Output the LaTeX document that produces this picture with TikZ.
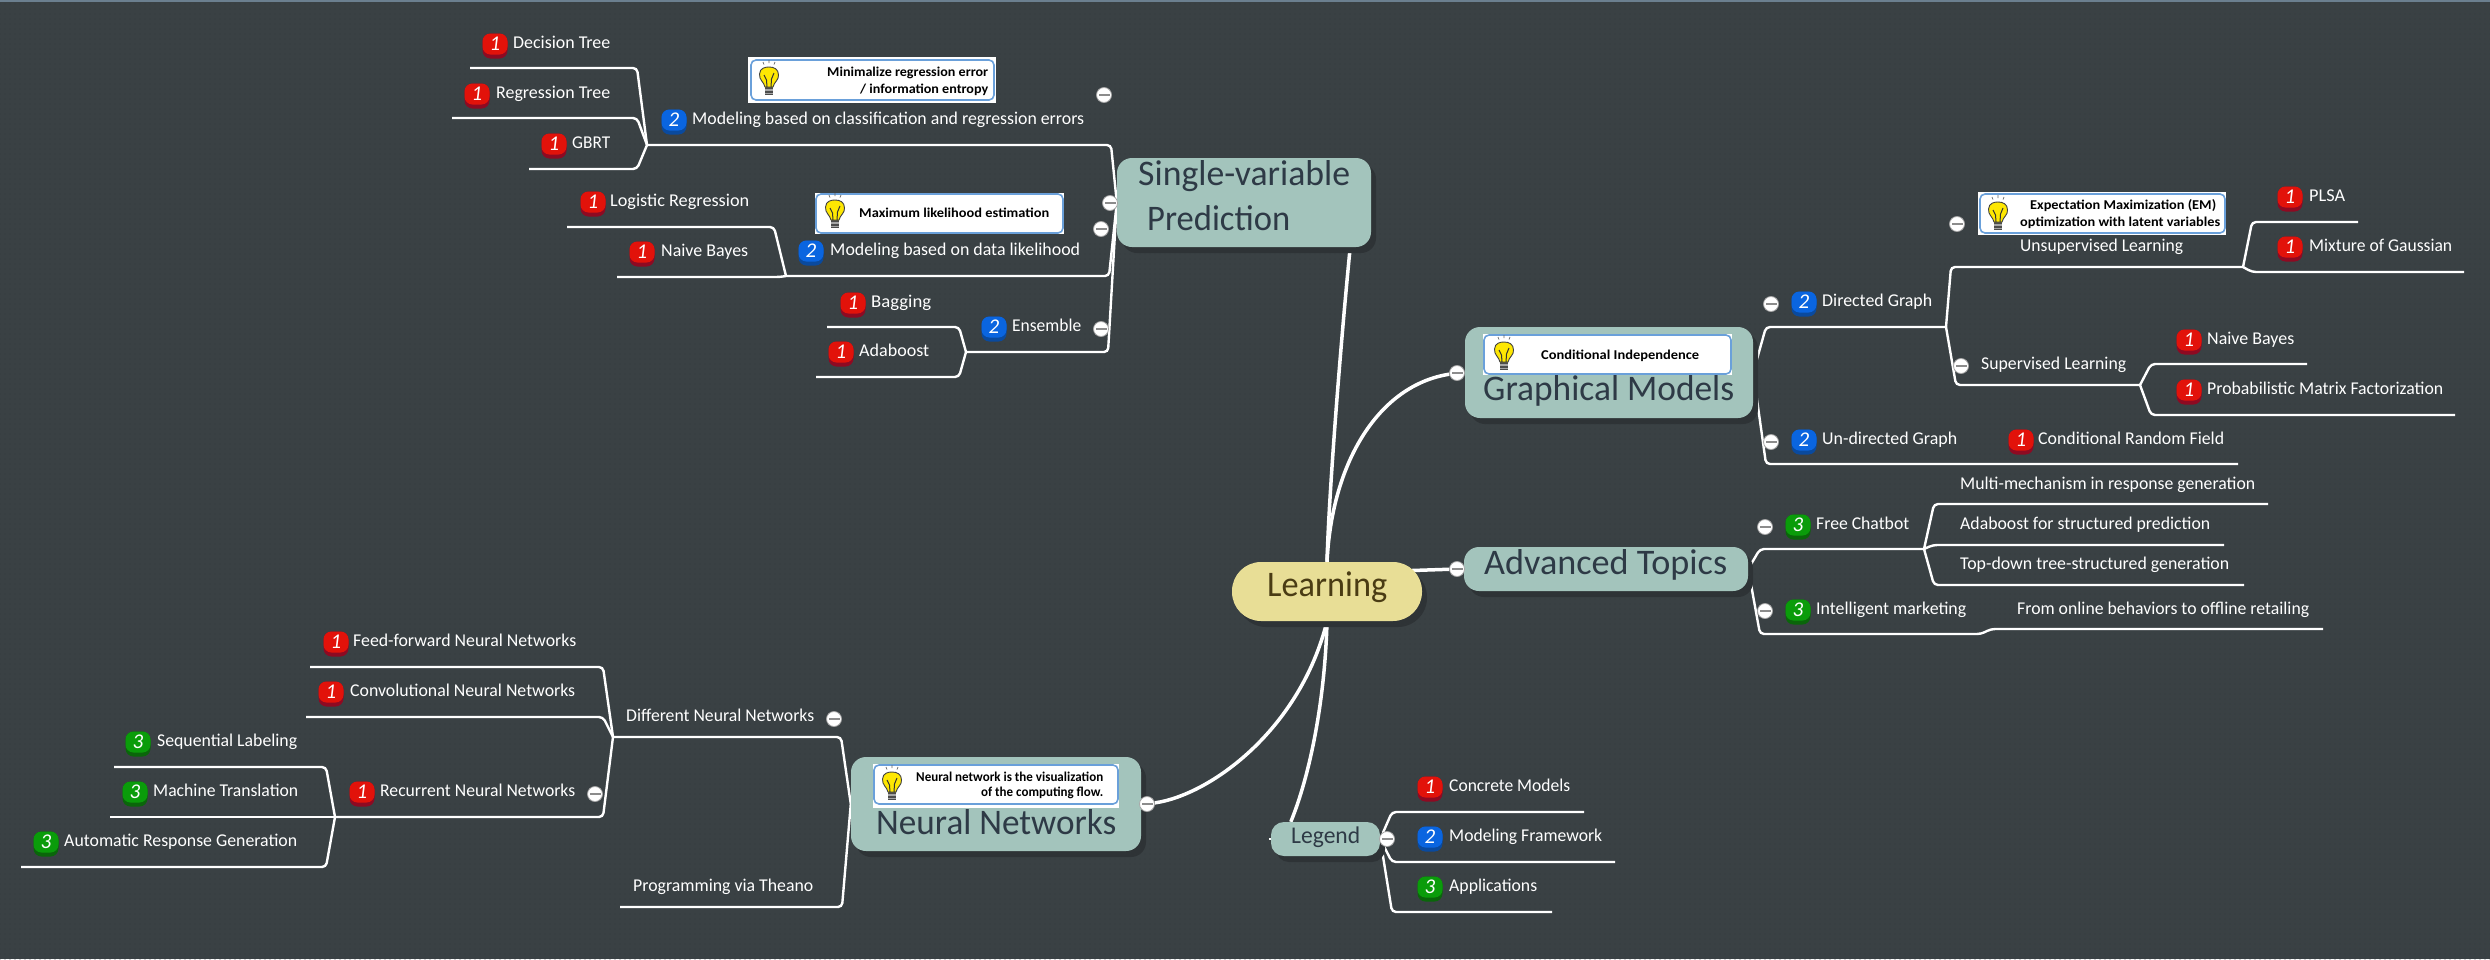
\documentclass[tikz,border=0pt]{standalone}
\usepackage{fontspec}
\usepackage{graphicx}
\setmainfont{Carlito}
\usetikzlibrary{shadows,backgrounds,patterns.meta}
\definecolor{bgc}{HTML}{3A4144}
\definecolor{dotc}{HTML}{33393C}
\definecolor{shad}{HTML}{2E3336}
\definecolor{teal}{HTML}{A3C4BC}
\definecolor{sand}{HTML}{E8DE96}
\definecolor{ink}{HTML}{2E3A46}
\definecolor{ink2}{HTML}{4A3C14}
\definecolor{calb}{HTML}{6AA0DA}
\definecolor{topb}{HTML}{6B7F8F}
\definecolor{rd}{HTML}{E2120A}\definecolor{rdd}{HTML}{8E0A22}
\definecolor{bl}{HTML}{0A65E0}\definecolor{bld}{HTML}{0A4A9E}
\definecolor{gr}{HTML}{0A9C0A}\definecolor{grd}{HTML}{0A660A}
\tikzset{
  x=1pt,y=-1pt,
  lnk/.style={draw=white,line width=2.4pt,rounded corners=4pt},
  trunk/.style={draw=white,line width=3.5pt},
  tbox/.style={fill=teal,rounded corners=15pt,inner sep=0pt,general shadow={fill=shad,shadow xshift=5pt,shadow yshift=-6pt}},
  cbox/.style={fill=sand,rounded corners=29pt,inner sep=0pt,general shadow={fill=shad,shadow xshift=5pt,shadow yshift=-6pt}},
  callo/.style={fill=white,inner sep=0pt},
  calli/.style={fill=white,draw=calb,line width=1.6pt,rounded corners=5pt,inner sep=0pt},
  lab/.style={anchor=base west,inner sep=0pt,text=white,font=\fontsize{18}{20}\selectfont},
  ttl/.style={anchor=base west,inner sep=0pt,text=ink,font=\fontsize{36}{38}\selectfont},
  note/.style={anchor=base west,inner sep=0pt,text=black,font=\bfseries\fontsize{13.5}{15}\selectfont},
  coll/.style={circle,fill=white,draw=black!35,line width=.8pt,minimum size=15pt,inner sep=0pt,
    path picture={\fill[black!45] ([xshift=-5.5pt,yshift=-1pt]path picture bounding box.center) rectangle ([xshift=5.5pt,yshift=1pt]path picture bounding box.center);}},
  bdg/.style={rounded corners=8pt,minimum width=25pt,minimum height=21pt,inner sep=0pt,text=white,font=\itshape\fontsize{21}{21}\selectfont},
}
% \boxn{style}{name}{x0}{y0}{x1}{y1}
\newcommand\boxn[6]{\pgfmathsetmacro\cxx{(#3+#5)/2}\pgfmathsetmacro\cyy{(#4+#6)/2}\pgfmathsetmacro\www{#5-#3}\pgfmathsetmacro\hhh{#6-#4}%
  \node[#1,minimum width=\www pt,minimum height=\hhh pt] (#2) at (\cxx,\cyy) {};}
% text with fixed width: \lbl{style}{name}{x0}{x1}{ymid}{text}
\newcommand\lbl[6]{\pgfmathsetmacro\www{#4-#3}\pgfmathsetmacro\yyy{#5+5.5}%
  \node[#1] (#2) at (#3,\yyy) {\resizebox{\www pt}{\height}{#6}};}
\newcommand\ttlb[6]{\pgfmathsetmacro\www{#4-#3}\pgfmathsetmacro\yyy{#5+11}%
  \node[#1] (#2) at (#3,\yyy) {\resizebox{\www pt}{\height}{#6}};}
\newcommand\notel[6]{\pgfmathsetmacro\www{#4-#3}\pgfmathsetmacro\yyy{#5+4.5}%
  \node[#1] (#2) at (#3,\yyy) {\resizebox{\www pt}{\height}{#6}};}
% \badge{name}{x}{y}{n}
\newcommand\badge[4]{%
  \ifnum#4=1 \def\bc{rd}\def\bd{rdd}\fi
  \ifnum#4=2 \def\bc{bl}\def\bd{bld}\fi
  \ifnum#4=3 \def\bc{gr}\def\bd{grd}\fi
  \fill[\bd,rounded corners=8pt] (#2-12.5,#3-12.5) rectangle (#2+12.5,#3+12.5);
  \node[bdg,fill=\bc] (#1) at (#2,#3-2) {#4};}
% \bulb{x}{y}
\newcommand\bulb[2]{\begin{scope}[shift={(#1,#2)}]
  \fill[black!70] (-4,7) rectangle (4,15);
  \fill[black!35] (-4,9) rectangle (4,11);
  \fill[black!35] (-4,12.5) rectangle (4,14);
  \fill[yellow!90!orange,draw=black!75,line width=.9pt] (-4,7) .. controls (-5,2) and (-10,0) .. (-9.5,-6) .. controls (-9,-12) and (-4,-13) .. (0,-13) .. controls (5,-13) and (9.5,-11) .. (9.5,-5) .. controls (10,0) and (5,2) .. (4,7) -- cycle;
  \draw[black!80,line width=1pt] (-2,7) -- (-2.5,0) -- (-5,-5);
  \draw[black!80,line width=1pt] (2,7) -- (2.5,-1) -- (5,-7);
  \draw[black!60,line width=.7pt] (-6,-18) -- (-5,-15.5) (0,-20) -- (0,-17) (6,-18) -- (5,-15.5);
\end{scope}}
% \branch{from}{bendx}{bendy}{endx}{name}
\newcommand\branch[5]{\coordinate (#5-b) at (#2,#3);\coordinate (#5) at (#4,#3);
  \draw[lnk] (#1) -- (#5-b) -- (#5);}
\begin{document}
\begin{tikzpicture}
\useasboundingbox (0,0) rectangle (2490,959);
% ---- central + main topics
\boxn{cbox}{lr}{1232}{562}{1422}{621}
\ttlb{ttl,text=ink2}{lrt}{1267}{1387}{585}{Learning}
\boxn{tbox}{sv}{1117}{158}{1371}{247}
\ttlb{ttl}{svt1}{1138}{1350}{174}{Single-variable}
\ttlb{ttl}{svt2}{1147}{1290}{219}{Prediction}
\boxn{tbox}{gm}{1465}{327}{1753}{418}
\ttlb{ttl}{gmt}{1483}{1734}{389}{Graphical Models}
\boxn{tbox}{ad}{1464}{547}{1748}{591}
\ttlb{ttl}{adt}{1484}{1727}{563}{Advanced Topics}
\boxn{tbox}{nn}{851}{757}{1141}{851}
\ttlb{ttl}{nnt}{876}{1116}{823}{Neural Networks}
\boxn{tbox,rounded corners=13pt}{lg}{1271}{822}{1380}{856}
\node[anchor=base west,inner sep=0pt,text=ink,font=\fontsize{24}{26}\selectfont] (lgt) at (1291,843) {\resizebox{69pt}{\height}{Legend}};
% ---- callouts
\boxn{callo}{c1o}{748}{57}{996}{103}
\boxn{calli}{c1}{751}{60}{994}{100}
\bulb{769}{80}
\notel{note}{c1a}{827}{988}{72}{Minimalize regression error}
\notel{note}{c1b}{860}{988}{89}{/ information entropy}
\boxn{callo}{c2o}{815}{193}{1064}{234}
\boxn{calli}{c2}{816}{194}{1063}{233}
\bulb{835}{213}
\notel{note}{c2a}{859}{1049}{213}{Maximum likelihood estimation}
\boxn{callo}{c3o}{1483}{334}{1732}{375}
\boxn{calli}{c3}{1484}{335}{1731}{374}
\bulb{1504}{355}
\notel{note}{c3a}{1541}{1699}{355}{Conditional Independence}
\boxn{callo}{c4o}{1978}{192}{2226}{235}
\boxn{calli}{c4}{1980}{194}{2225}{233}
\bulb{1998}{215}
\notel{note}{c4a}{2030}{2216}{205}{Expectation Maximization (EM)}
\notel{note}{c4b}{2020}{2220}{222}{optimization with latent variables}
\boxn{callo}{c5o}{873}{764}{1119}{808}
\boxn{calli}{c5}{874}{765}{1118}{804}
\bulb{892}{785}
\notel{note}{c5a}{916}{1103}{777}{Neural network is the visualization}
\notel{note}{c5b}{981}{1103}{792}{of the computing flow.}
% ---- badges and labels: single-variable
\badge{b1}{495}{46}{1}\lbl{lab}{t1}{513}{610}{43}{Decision Tree}
\badge{b2}{477}{96}{1}\lbl{lab}{t2}{496}{610}{93}{Regression Tree}
\badge{b3}{554}{146}{1}\lbl{lab}{t3}{572}{610}{143}{GBRT}
\badge{b4}{674}{122}{2}\lbl{lab}{t4}{692}{1084}{119}{Modeling based on classification and regression errors}
\badge{b5}{593}{204}{1}\lbl{lab}{t5}{610}{749}{201}{Logistic Regression}
\badge{b6}{642}{254}{1}\lbl{lab}{t6}{661}{748}{251}{Naive Bayes}
\badge{b7}{811}{253}{2}\lbl{lab}{t7}{830}{1080}{250}{Modeling based on data likelihood}
\badge{b8}{853}{305}{1}\lbl{lab}{t8}{871}{931}{302}{Bagging}
\badge{b9}{841}{354}{1}\lbl{lab}{t9}{859}{929}{351}{Adaboost}
\badge{b10}{994}{329}{2}\lbl{lab}{t10}{1012}{1081}{326}{Ensemble}
% graphical models
\badge{b11}{1804}{304}{2}\lbl{lab}{t11}{1822}{1932}{301}{Directed Graph}
\badge{b12}{1804}{442}{2}\lbl{lab}{t12}{1822}{1957}{439}{Un-directed Graph}
\badge{b13}{2021}{442}{1}\lbl{lab}{t13}{2038}{2224}{439}{Conditional Random Field}
\lbl{lab}{t14}{2020}{2183}{246}{Unsupervised Learning}
\badge{b15}{2290}{199}{1}\lbl{lab}{t15}{2309}{2345}{196}{PLSA}
\badge{b16}{2290}{249}{1}\lbl{lab}{t16}{2309}{2452}{246}{Mixture of Gaussian}
\lbl{lab}{t17}{1981}{2126}{364}{Supervised Learning}
\badge{b18}{2189}{342}{1}\lbl{lab}{t18}{2207}{2294}{339}{Naive Bayes}
\badge{b19}{2189}{392}{1}\lbl{lab}{t19}{2207}{2443}{389}{Probabilistic Matrix Factorization}
% advanced
\badge{b20}{1798}{527}{3}\lbl{lab}{t20}{1816}{1909}{524}{Free Chatbot}
\badge{b21}{1798}{612}{3}\lbl{lab}{t21}{1816}{1966}{609}{Intelligent marketing}
\lbl{lab}{t22}{1960}{2255}{484}{Multi-mechanism in response generation}
\lbl{lab}{t23}{1960}{2210}{524}{Adaboost for structured prediction}
\lbl{lab}{t24}{1960}{2229}{564}{Top-down tree-structured generation}
\lbl{lab}{t25}{2017}{2309}{609}{From online behaviors to offline retailing}
% neural
\badge{b26}{336}{644}{1}\lbl{lab}{t26}{353}{576}{641}{Feed-forward Neural Networks}
\badge{b27}{331}{694}{1}\lbl{lab}{t27}{350}{575}{691}{Convolutional Neural Networks}
\lbl{lab}{t28}{626}{814}{716}{Different Neural Networks}
\badge{b29}{362}{794}{1}\lbl{lab}{t29}{380}{575}{791}{Recurrent Neural Networks}
\badge{b30}{138}{744}{3}\lbl{lab}{t30}{157}{297}{741}{Sequential Labeling}
\badge{b31}{135}{794}{3}\lbl{lab}{t31}{153}{298}{791}{Machine Translation}
\badge{b32}{46}{844}{3}\lbl{lab}{t32}{64}{297}{841}{Automatic Response Generation}
\lbl{lab}{t33}{633}{813}{886}{Programming via Theano}
% legend
\badge{b34}{1430}{789}{1}\lbl{lab}{t34}{1449}{1570}{786}{Concrete Models}
\badge{b35}{1430}{839}{2}\lbl{lab}{t35}{1449}{1602}{836}{Modeling Framework}
\badge{b36}{1430}{889}{3}\lbl{lab}{t36}{1449}{1537}{886}{Applications}
% ---- collapse markers
\node[coll] (k1) at (1104,95) {};
\node[coll] (k2) at (1110,203) {};
\node[coll] (k3) at (1101,229) {};
\node[coll] (k4) at (1101,329) {};
\node[coll] (k5) at (1457,373) {};
\node[coll] (k6) at (1771,304) {};
\node[coll] (k7) at (1771,442) {};
\node[coll] (k8) at (1957,224) {};
\node[coll] (k9) at (1961,366) {};
\node[coll] (k10) at (1457,569) {};
\node[coll] (k11) at (1765,527) {};
\node[coll] (k12) at (1765,611) {};
\node[coll] (k13) at (834,719) {};
\node[coll] (k14) at (595,794) {};
\node[coll] (k15) at (1147,804) {};
\node[coll] (k16) at (1387,839) {};
% ---- connectors and background
\begin{pgfonlayer}{background}
\fill[bgc] (0,0) rectangle (2490,959);
\fill[pattern={Dots[radius=.6pt,distance=5pt]},pattern color=dotc] (0,0) rectangle (2490,959);
\fill[topb] (0,0) rectangle (2490,2);
% trunks
\draw[trunk] (lr.north) .. controls (1329,490) and (1341,340) .. ([xshift=-21pt]sv.south east);
\draw[trunk] (lr.north) .. controls (1332,460) and (1380,385) .. (k5);
\draw[trunk] ([yshift=21pt,xshift=-10pt]lr.east) -- (k10);
\draw[trunk] (lr.south) .. controls (1300,730) and (1210,795) .. (k15);
\draw[trunk] (lr.south) .. controls (1325,700) and (1310,775) .. ([xshift=20pt]lg.north west);
% single-variable
\branch{sv.west}{1111}{145}{647}{j1}
\branch{j1}{637}{68}{470}{e1}
\branch{j1}{637}{118}{452}{e2}
\branch{j1}{637}{169}{529}{e3}
\coordinate (e4b) at (1109,276);\coordinate (j2) at (786,276);
\draw[lnk] (sv.west) -- (e4b) -- (j2);
\branch{j2}{774}{227}{567}{e5}
\coordinate (e6b) at (780,277);\coordinate (e6) at (617,277);
\draw[lnk] (j2) -- (e6b) -- (e6);
\branch{sv.west}{1108}{352}{966}{j3}
\branch{j3}{959}{327}{827}{e7}
\branch{j3}{959}{377}{816}{e8}
\draw[white,line width=1.5pt] ([xshift=-2pt]sv.east) -- ++(4,0);
% graphical
\branch{gm.east}{1766}{327}{1946}{j4}
\branch{j4}{1951}{267}{2243}{j5}
\branch{j5}{2252}{222}{2358}{e9}
\branch{j5}{2252}{272}{2464}{e10}
\branch{j4}{1956}{385}{2140}{j6}
\branch{j6}{2151}{364}{2307}{e11}
\branch{j6}{2151}{415}{2455}{e12}
\branch{gm.east}{1766}{464}{2238}{e13}
% advanced
\branch{ad.east}{1760}{549}{1924}{j7}
\branch{j7}{1934}{504}{2268}{e14}
\branch{j7}{1933}{545}{2224}{e15}
\branch{j7}{1934}{585}{2244}{e16}
\coordinate (e17a) at (1760,634);\coordinate (e17b) at (1981,634);\coordinate (e17c) at (1991,629);\coordinate (e17) at (2323,629);
\draw[lnk] (ad.east) -- (e17a) -- (e17b) -- (e17c) -- (e17);
% neural
\branch{nn.west}{841}{737}{613}{j8}
\branch{nn.west}{842}{907}{620}{e18}
\branch{j8}{603}{667}{310}{e19}
\branch{j8}{603}{717}{306}{e20}
\branch{j8}{603}{817}{335}{j9}
\branch{j9}{326}{767}{114}{e21}
\draw[lnk] (j9) -- (110,817);
\branch{j9}{326}{867}{21}{e22}
% legend
\branch{lg.east}{1392}{812}{1584}{e23}
\branch{lg.east}{1392}{862}{1615}{e24}
\branch{lg.east}{1392}{912}{1552}{e25}
\draw[white,line width=2pt] ([xshift=-2pt]lg.west) -- ++(3,0);
\end{pgfonlayer}
\end{tikzpicture}
\end{document}
